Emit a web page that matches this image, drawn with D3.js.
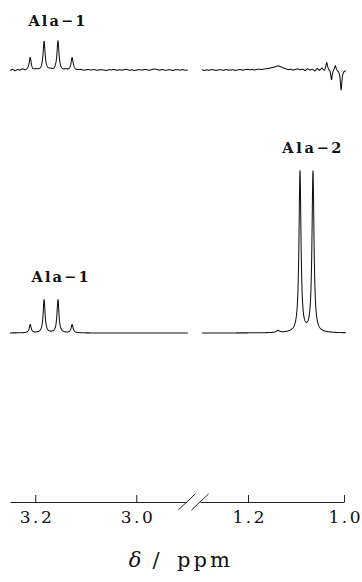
<!DOCTYPE html>
<html>
<head>
<meta charset="utf-8">
<script src="https://cdn.jsdelivr.net/npm/d3@7"></script>
<style>
  html, body { margin: 0; padding: 0; background: #fff; }
  svg { display: block; }
</style>
</head>
<body>
<svg id="chart" width="362" height="582"></svg>
<script>
// ---- data -------------------------------------------------------------
// chemical-shift windows of the two axis segments (ppm)
const axisLeft = [3.25, 2.90];
const axisRight = [1.30, 1.00];
const traceLeft = [3.25, 2.898];
const traceRight = [1.296, 0.996];
const ticksLeft = [3.2, 3.0];
const ticksRight = [1.2, 1.0];

// Ala-1 quartet (CH) – shifts, intensities in the full and difference spectra
const ala1Shift = [3.210, 3.1825, 3.155, 3.127];
const ala1Full = [0.05, 0.20, 0.20, 0.05];
const ala1Diff = [0.072, 0.17, 0.17, 0.072];
const ala1Width = 0.0023;

// Ala-2 doublet (CH3)
const ala2Shift = [1.0917, 1.0646];
const ala2Full = [0.97, 0.97];
const ala2Width = 0.0025;

// minor signal beside the doublet
const minorShift = [1.1375];
const minorFull = [0.012];
const minorWidth = 0.004;

// subtraction residue at the high-field edge of the difference spectrum
const residueShift = [1.036, 1.026, 1.018, 1.006];
const residueDiff = [0.035, -0.075, 0.03, -0.12];
const residueWidth = 0.0019;

// baseline noise of the difference spectrum (intensity x 1000), evenly spaced over each window
const noiseLeft = [-3, 4, -6, 2, -2, 5, -4, 1, 3, -5, 2, 0, -3, 4, 1, -2, 3, -4, 2, 5,
  -1, -3, 2, -2, 1, 3, -2, 0, 2, -3, 1, 2, -1, 3, -2, 0, 2, -1, -3, 2,
  0, 3, -2, 1, -1, 2, 4, -2, 1, -3, 0, 2, -1, 3, 1, -2, 4, 6, 2, -1,
  3, -2, 0, 2, -3, 1, 2, -1, 3, -2, 0];
const noiseRight = [2, -3, 1, -2, 3, 0, -3, 2, 1, -2, 3, -1, 0, 2, -3, 1, 3, -1, 2, 4,
  1, 3, 0, 4, 5, 3, 6, 8, 10, 14, 17, 22, 25, 19, 12, 7, 2, 5, -1, 4,
  7, 1, 5, -4, 8, 0, 5, -6, 9, -2, 12, -5, 13, 4, 15, 6, 0, 0, 0, 0, 0];

const labelText = ["Ala\u22121", "Ala\u22121", "Ala\u22122"];
const labelShift = [3.157, 3.151, 1.067];

// ---- drawing ----------------------------------------------------------
const svg = d3.select("#chart");
svg.append("rect").attr("width", 362).attr("height", 582).attr("fill", "#fff");

const xL = d3.scaleLinear().domain(axisLeft).range([10, 186.75]);
const xR = d3.scaleLinear().domain(axisRight).range([200, 344]);
const yFull = d3.scaleLinear().domain([0, 1]).range([333, 167]);
const yDiff = d3.scaleLinear().domain([0, 1]).range([70, -96]);

function lorentz(ppm, shifts, heights, w) {
  let s = 0;
  for (let i = 0; i < shifts.length; i++) {
    const d = ppm - shifts[i];
    s += heights[i] * w * w / (w * w + d * d);
  }
  return s;
}
function noiseAt(ppm, arr, win) {
  const t = (win[0] - ppm) / (win[0] - win[1]) * (arr.length - 1);
  const i = Math.max(0, Math.min(arr.length - 2, Math.floor(t)));
  const f = t - i;
  return (arr[i] * (1 - f) + arr[i + 1] * f) / 1000;
}
function grid(win, n) {
  return d3.range(n + 1).map(i => win[0] - i * (win[0] - win[1]) / n);
}

const fullLeft = grid(traceLeft, 900).map(p => ({p, v: lorentz(p, ala1Shift, ala1Full, ala1Width)}));
const fullRight = grid(traceRight, 900).map(p => ({p, v:
  lorentz(p, ala2Shift, ala2Full, ala2Width) + lorentz(p, minorShift, minorFull, minorWidth)}));
const diffLeft = grid(traceLeft, 900).map(p => ({p, v:
  lorentz(p, ala1Shift, ala1Diff, ala1Width) + noiseAt(p, noiseLeft, traceLeft)}));
const diffRight = grid(traceRight, 900).map(p => ({p, v:
  lorentz(p, residueShift, residueDiff, residueWidth) + noiseAt(p, noiseRight, traceRight)}));

const traces = [
  [fullLeft, xL, yFull], [fullRight, xR, yFull],
  [diffLeft, xL, yDiff], [diffRight, xR, yDiff]
];
traces.forEach(([data, x, y]) => {
  svg.append("path")
    .datum(data)
    .attr("fill", "none")
    .attr("stroke", "#111")
    .attr("stroke-width", 1.05)
    .attr("stroke-linejoin", "round")
    .attr("d", d3.line().x(d => x(d.p)).y(d => y(d.v)));
});

// peak labels
const labelY = [26, 282, 153];
const labelX = [xL(labelShift[0]), xL(labelShift[1]), xR(labelShift[2])];
labelText.forEach((t, i) => {
  svg.append("text")
    .attr("x", labelX[i]).attr("y", labelY[i])
    .attr("text-anchor", "middle")
    .attr("font-family", "DejaVu Serif")
    .attr("font-weight", "bold")
    .attr("font-size", 14.5)
    .attr("textLength", i === 2 ? 59 : 57)
    .attr("lengthAdjust", "spacing")
    .attr("fill", "#111")
    .text(t);
});

// broken x axis
const axisY = 502;
function drawAxis(scale, ticks) {
  const g = svg.append("g").attr("transform", `translate(0,${axisY})`)
    .call(d3.axisBottom(scale).tickValues(ticks).tickSizeInner(-7).tickSizeOuter(0)
      .tickPadding(9).tickFormat(d3.format(".1f")));
  g.select(".domain").attr("stroke", "#222").attr("stroke-width", 1);
  g.selectAll(".tick line").attr("stroke", "#222");
  g.selectAll(".tick text")
    .attr("font-family", "DejaVu Serif")
    .attr("font-size", 17)
    .attr("fill", "#111")
    .attr("textLength", 32)
    .attr("lengthAdjust", "spacing");
}
drawAxis(xL, ticksLeft);
drawAxis(xR, ticksRight);

// break marks
[xL(axisLeft[1]), xR(axisRight[0])].forEach(cx => {
  svg.append("line")
    .attr("x1", cx - 8.5).attr("y1", axisY + 8)
    .attr("x2", cx + 8.5).attr("y2", axisY - 8)
    .attr("stroke", "#222").attr("stroke-width", 1);
});

// axis title
const title = svg.append("g").attr("font-family", "DejaVu Serif").attr("font-size", 21).attr("fill", "#111");
title.append("text").attr("x", 135).attr("y", 567).attr("text-anchor", "middle")
  .attr("font-style", "italic").text("\u03b4");
title.append("text").attr("x", 156).attr("y", 567).attr("text-anchor", "middle").text("/");
title.append("text").attr("x", 177).attr("y", 567).attr("textLength", 53)
  .attr("lengthAdjust", "spacing").text("ppm");
</script>
</body>
</html>
